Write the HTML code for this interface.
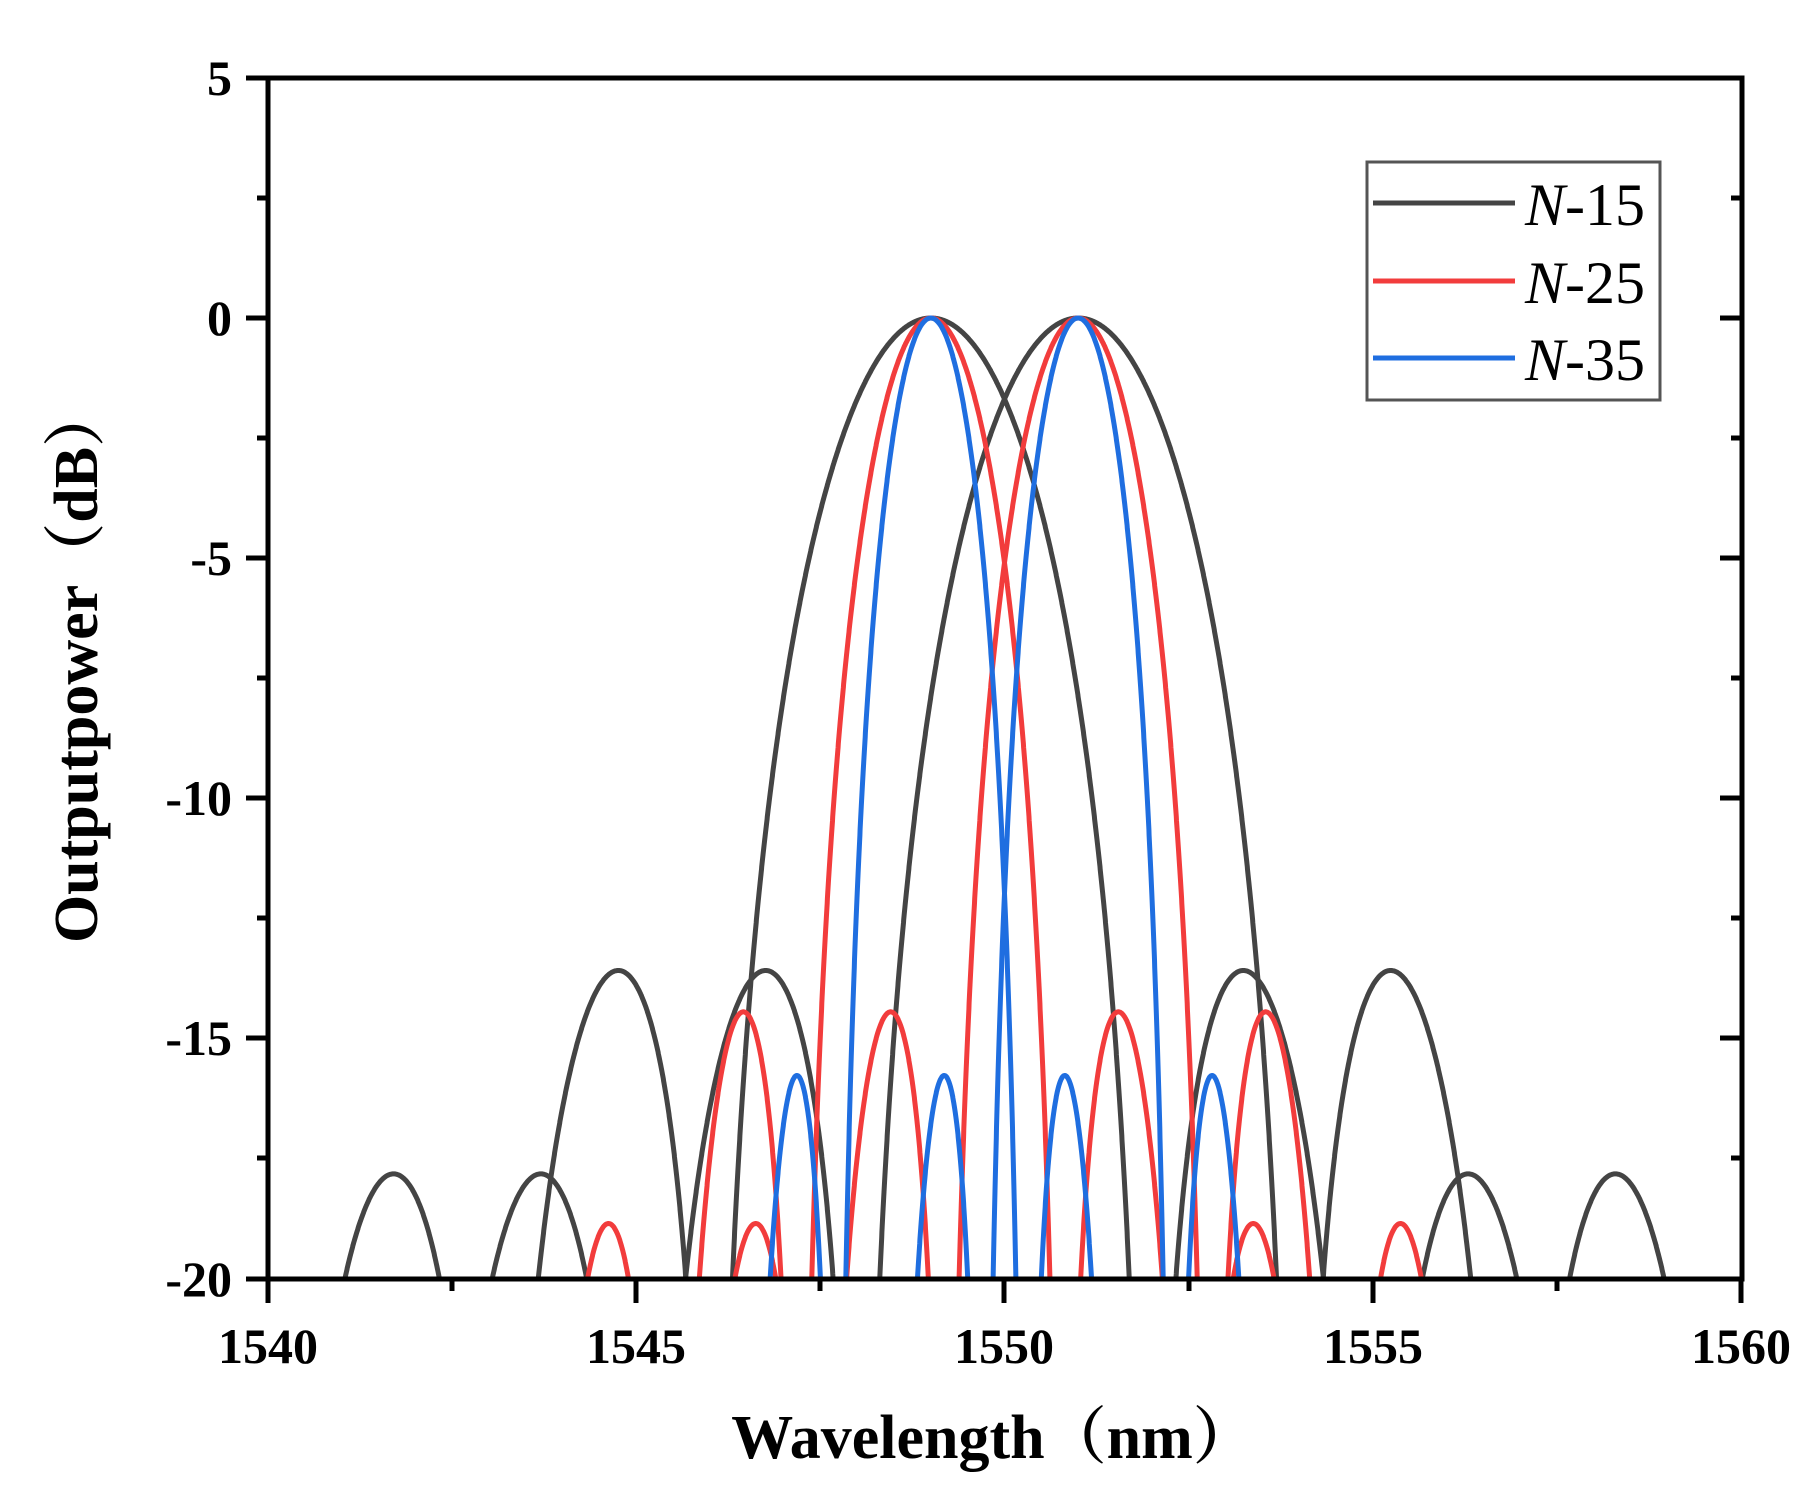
<!DOCTYPE html>
<html><head><meta charset="utf-8"><style>
html,body{margin:0;padding:0;background:#fff;overflow:hidden;width:1812px;height:1490px;}
svg{display:block;}
text{font-family:"Liberation Serif","Noto Serif CJK SC",serif;}
</style></head><body>
<svg id="s" width="1812" height="1490" viewBox="0 0 1812 1490" xmlns="http://www.w3.org/2000/svg">
<defs><clipPath id="c"><rect x="268" y="78" width="1474" height="1201"/></clipPath></defs>
<g id="curves" clip-path="url(#c)" fill="none" stroke-width="5" stroke-linejoin="round"></g>
<g stroke="#000" stroke-width="5" fill="none">
<rect x="268" y="78" width="1474" height="1201"/>
<path d="M246 78H268M246 318H268M246 558H268M246 798H268M246 1038H268M246 1279H268"/>
<path d="M257 198H268M257 438H268M257 678H268M257 918H268M257 1158H268"/>
<path d="M1720 318H1742M1720 558H1742M1720 798H1742M1720 1038H1742"/>
<path d="M1731 198H1742M1731 438H1742M1731 678H1742M1731 918H1742M1731 1158H1742"/>
<path d="M268 1279V1303M636 1279V1303M1004 1279V1303M1373 1279V1303M1741 1279V1303"/>
<path d="M452 1279V1291M820 1279V1291M1189 1279V1291M1557 1279V1291"/>
</g>
<g font-size="50" font-weight="bold" text-anchor="end">
<text x="232" y="95">5</text><text x="232" y="335">0</text><text x="232" y="575">-5</text>
<text x="232" y="815">-10</text><text x="232" y="1055">-15</text><text x="232" y="1296">-20</text>
</g>
<g font-size="50" font-weight="bold" text-anchor="middle">
<text x="268" y="1363">1540</text><text x="636" y="1363">1545</text><text x="1004" y="1363">1550</text>
<text x="1373" y="1363">1555</text><text x="1741" y="1363">1560</text>
</g>
<text x="993" y="1458" font-size="62" font-weight="bold" text-anchor="middle">Wavelength（nm）</text>
<text transform="translate(97,664) rotate(-90)" font-size="62" font-weight="bold" text-anchor="middle">Outputpower（dB）</text>
<rect x="1367" y="162" width="293" height="238" fill="#fff" stroke="#555" stroke-width="3"/>
<path d="M1373 203H1515" stroke="#444" stroke-width="5"/>
<path d="M1373 281H1515" stroke="#f23c3c" stroke-width="5"/>
<path d="M1373 358H1515" stroke="#1f6ee0" stroke-width="5"/>
<g font-size="60"><text x="1525" y="225"><tspan font-style="italic">N</tspan>-15</text>
<text x="1525" y="303"><tspan font-style="italic">N</tspan>-25</text>
<text x="1525" y="380"><tspan font-style="italic">N</tspan>-35</text></g>
</svg>
<script>
(function(){
var g=document.getElementById('curves');
var series=[[15,'#444',1.025,1.0],[25,'#f23c3c',1.09,1.058],[35,'#1f6ee0',1.19,1.16]];
function X(l){return 268+(l-1540)*73.65;}
function Y(d){return 318-d*48;}
series.forEach(function(s){
 var D=44.5/s[0];
 [1549,1551].forEach(function(c){
  var p='';
  for(var l=1539;l<=1561;l+=0.004){
   var u=(l-c)/D, v;
   if(Math.abs(u)<1e-6)v=1;else{var a=Math.PI*u;v=Math.sin(a)/a;v=v*v;}
   var db=10*Math.log10(Math.max(v,1e-6));
   var au=Math.abs(u);
   if(au>2)db*=s[3];else if(au>1)db*=s[2];
   if(db<-26)db=-26;
   p+=(p?'L':'M')+X(l).toFixed(1)+' '+Y(db).toFixed(1);
  }
  var e=document.createElementNS('http://www.w3.org/2000/svg','path');
  e.setAttribute('d',p);e.setAttribute('stroke',s[1]);
  g.appendChild(e);
 });
});
})();
</script>
</body></html>
